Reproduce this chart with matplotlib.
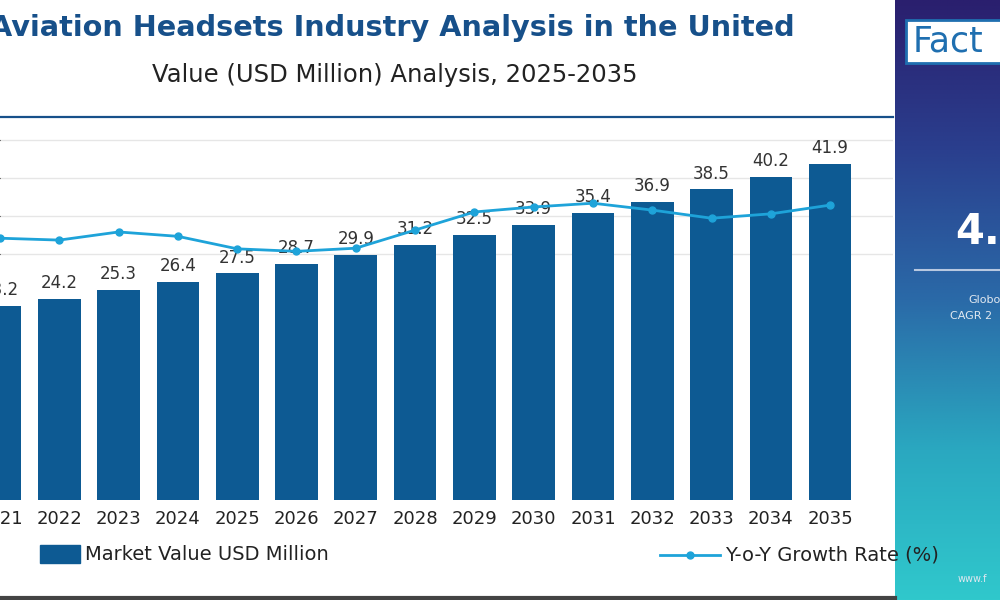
import matplotlib
matplotlib.use('Agg')
import matplotlib.pyplot as plt
import numpy as np
from matplotlib.colors import LinearSegmentedColormap

years = list(range(2021, 2036))
market_value = [23.2, 24.2, 25.3, 26.4, 27.5, 28.7, 29.9, 31.2, 32.5, 33.9, 35.4, 36.9, 38.5, 40.2, 41.9]
# growth values estimated from the line position (not labelled in the picture)
growth = [4.39, 4.36, 4.49, 4.42, 4.22, 4.18, 4.23, 4.52, 4.81, 4.89, 4.95, 4.84, 4.71, 4.78, 4.92]

BAR = "#0d5a93"
LINE = "#1ea3d9"
TITLE = "#17508a"

fig = plt.figure(figsize=(10, 6), dpi=100)

# main chart
ax = fig.add_axes([0, 100 / 600, 0.893, 383 / 600])
base = -2.2
ax.bar(years, [v - base for v in market_value], bottom=base, width=0.72, color=BAR, zorder=2)
for x, v in zip(years, market_value):
    ax.text(x, v + 0.9, f"{v}", ha="center", va="bottom", fontsize=12, color="#333333", zorder=5)
ax.set_xlim(2021.034, 2036.06)
ax.set_ylim(base, 48)
ax.set_yticks([30, 35, 40, 45])
ax.yaxis.grid(True, color="#e6e6e6", lw=1, zorder=0)
ax.set_yticklabels([])
ax.tick_params(left=False, bottom=False)
ax.set_xticks(years)
ax.set_xticklabels([str(y) for y in years], fontsize=13, color="#222222")
for s in ["left", "right", "bottom"]:
    ax.spines[s].set_visible(False)
ax.spines["top"].set_color(TITLE)
ax.spines["top"].set_linewidth(1.6)

ax2 = ax.twinx()
ax2.plot(years, growth, color=LINE, lw=2, marker="o", ms=5, zorder=4)
ax2.set_ylim(0.2, 6.33)
ax2.axis("off")

# titles
fig.text(0.3925, 0.953, "Aviation Headsets Industry Analysis in the United", ha="center", va="center",
         fontsize=20.7, fontweight="bold", color=TITLE)
fig.text(0.395, 0.875, "Value (USD Million) Analysis, 2025-2035", ha="center", va="center",
         fontsize=17.5, color="#222222")

# legend
fig.patches.append(plt.Rectangle((0.04, 0.062), 0.04, 0.03, transform=fig.transFigure, color=BAR))
fig.text(0.085, 0.075, "Market Value USD Million", va="center", fontsize=14, color="#222222")
fig.add_artist(plt.Line2D([0.66, 0.72], [0.075, 0.075], transform=fig.transFigure, color=LINE, lw=2))
fig.add_artist(plt.Line2D([0.69], [0.075], transform=fig.transFigure, color=LINE, marker="o", ms=5))
fig.text(0.725, 0.075, "Y-o-Y Growth Rate (%)", va="center", fontsize=14, color="#222222")

# bottom border
fig.add_artist(plt.Line2D([0, 0.895], [0.004, 0.004], transform=fig.transFigure, color="#444444", lw=3))

# right side panel with gradient
pax = fig.add_axes([0.895, 0, 0.105, 1])
grad = np.linspace(0, 1, 256).reshape(-1, 1)
cmap = LinearSegmentedColormap.from_list("panel", ["#2a1f6e", "#2a3f8e", "#2a6aa8", "#2aa8c0", "#30c8cc"])
pax.imshow(grad, cmap=cmap, aspect="auto", extent=[0, 1, 0, 1], origin="upper")
pax.set_xlim(0, 1)
pax.set_ylim(0, 1)
pax.axis("off")
pax.add_patch(plt.Rectangle((0.1, 0.895), 1.0, 0.072, facecolor="white", edgecolor="#1f6fb0", lw=2))
pax.text(0.17, 0.93, "Fact", fontsize=25, color="#1f6fb0", va="center")
pax.text(0.57, 0.613, "4.", fontsize=30, fontweight="bold", color="white", va="center")
pax.plot([0.19, 1.0], [0.55, 0.55], color="#b8c8e0", lw=1.5)
pax.text(0.7, 0.5, "Globo", fontsize=8, color="#e0e8f0", va="center")
pax.text(0.52, 0.473, "CAGR 2", fontsize=8, color="#e0e8f0", va="center")
pax.text(0.6, 0.035, "www.f", fontsize=7, color="#e0e8f0", va="center")

fig.savefig("out.png", dpi=100)
